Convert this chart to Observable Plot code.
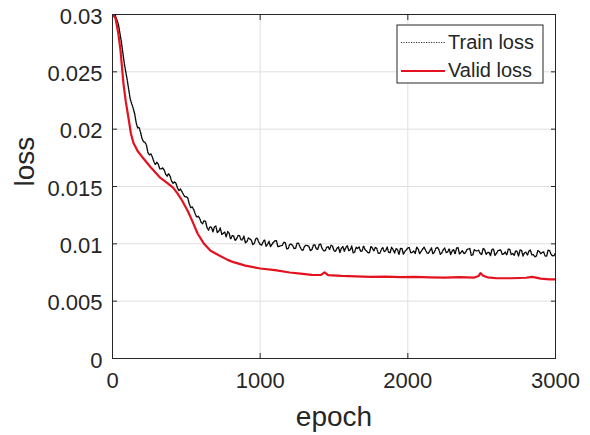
<!DOCTYPE html>
<html>
<head>
<meta charset="utf-8">
<script src="https://cdn.jsdelivr.net/npm/d3@7"></script>
<script src="https://cdn.jsdelivr.net/npm/@observablehq/plot@0.6"></script>
<style>
  html, body { margin: 0; padding: 0; background: #fff; }
  #chart { width: 590px; height: 435px; }
</style>
</head>
<body>
<div id="chart"></div>
<script>
const xTicks = [0, 1000, 2000, 3000];
const xTickLabels = ["0", "1000", "2000", "3000"];
const yTicks = [0, 0.005, 0.01, 0.015, 0.02, 0.025, 0.03];
const yTickLabels = ["0", "0.005", "0.01", "0.015", "0.02", "0.025", "0.03"];
const xLabel = "epoch";
const yLabel = "loss";
const seriesNames = ["Train loss", "Valid loss"];

// Train loss, even samples
const trainEpoch = [0,20,40,60,80,100,120,140,160,180,200,220,240,260,280,300,320,340,360,380,400,420,440,460,480,500,520,540,560,580,600,
620,640,660,680,700,720,740,760,780,800,820,840,860,880,900,920,940,960,980,1000,
1020,1040,1060,1080,1100,1120,1140,1160,1180,1200,1220,1240,1260,1280,1300,1320,1340,1360,1380,1400,
1420,1440,1460,1480,1500,1520,1540,1560,1580,1600,1620,1640,1660,1680,1700,1720,1740,1760,1780,1800,
1820,1840,1860,1880,1900,1920,1940,1960,1980,2000,2020,2040,2060,2080,2100,2120,2140,2160,2180,2200,
2220,2240,2260,2280,2300,2320,2340,2360,2380,2400,2420,2440,2460,2480,2500,2520,2540,2560,2580,2600,
2620,2640,2660,2680,2700,2720,2740,2760,2780,2800,2820,2840,2860,2880,2900,2920,2940,2960,2980,3000];
const trainLoss = [0.03000,0.02990,0.02915,0.02762,0.02571,0.02428,0.02262,0.02183,0.02058,0.02017,0.01918,0.01886,0.01796,0.01784,0.01718,0.01712,0.01655,0.01662,0.01608,0.01612,0.01548,0.01541,0.01488,0.01478,0.01432,0.01411,0.01348,0.01322,0.01262,0.01241,0.01188,
0.01202,0.01142,0.01149,0.01105,0.01155,0.01110,0.01082,0.01105,0.01107,0.01041,
0.01069,0.01042,0.01073,0.01035,0.01009,0.01052,0.01033,0.01002,0.01050,0.00995,
0.01018,0.00979,0.01023,0.00996,0.01026,0.00976,0.00984,0.01014,0.00956,0.00996,
0.00986,0.00962,0.01005,0.00950,0.00978,0.00985,0.00940,0.00988,0.00955,0.00995,
0.00958,0.00938,0.00975,0.00987,0.00940,0.00961,0.00925,0.00976,0.00967,0.00941,
0.00981,0.00929,0.00959,0.00935,0.00982,0.00939,0.00921,0.00963,0.00970,0.00917,
0.00949,0.00931,0.00972,0.00922,0.00951,0.00958,0.00908,0.00960,0.00933,0.00965,
0.00922,0.00937,0.00970,0.00914,0.00954,0.00946,0.00918,0.00964,0.00928,0.00969,
0.00909,0.00949,0.00923,0.00958,0.00938,0.00911,0.00966,0.00926,0.00915,0.00949,
0.00959,0.00904,0.00939,0.00944,0.00907,0.00951,0.00924,0.00897,0.00954,0.00916,
0.00944,0.00905,0.00928,0.00953,0.00907,0.00899,0.00934,0.00946,0.00894,0.00927,
0.00938,0.00905,0.00888,0.00940,0.00914,0.00930,0.00893,0.00941,0.00895,0.00920];

// Train loss, odd samples
const trainEpochB = [150,170,190,210,230,250,270,290,310,330,350,370,390,410,430,450,470,490,510,530,550,570,590,
610,630,650,670,690,710,730,750,770,790,810,830,850,870,890,910,930,950,970,990,
1010,1030,1050,1070,1090,1110,1130,1150,1170,1190,1210,1230,1250,1270,1290,1310,1330,1350,1370,1390,
1410,1430,1450,1470,1490,1510,1530,1550,1570,1590,1610,1630,1650,1670,1690,1710,1730,1750,1770,1790,
1810,1830,1850,1870,1890,1910,1930,1950,1970,1990,2010,2030,2050,2070,2090,2110,2130,2150,2170,2190,
2210,2230,2250,2270,2290,2310,2330,2350,2370,2390,2410,2430,2450,2470,2490,2510,2530,2550,2570,2590,
2610,2630,2650,2670,2690,2710,2730,2750,2770,2790,2810,2830,2850,2870,2890,2910,2930,2950,2970,2990];
const trainLossB = [0.02135,0.02012,0.01972,0.01891,0.01860,0.01776,0.01758,0.01691,0.01696,0.01653,0.01643,0.01590,0.01590,0.01528,0.01528,0.01464,0.01456,0.01409,0.01399,0.01315,0.01299,0.01233,0.01224,
0.01176,0.01196,0.01119,0.01144,0.01147,0.01098,0.01139,0.01090,0.01061,0.01092,
0.01071,0.01030,0.01072,0.01034,0.01068,0.01018,0.01043,0.00994,0.01045,0.01016,
0.00989,0.01036,0.00995,0.00976,0.01014,0.01028,0.00978,0.00987,0.01011,0.00958,
0.00996,0.00957,0.01006,0.00973,0.00942,0.00987,0.00978,0.00949,0.00992,0.00953,
0.00997,0.00940,0.00969,0.00951,0.00981,0.00933,0.00973,0.00961,0.00936,0.00985,
0.00947,0.00922,0.00971,0.00975,0.00936,0.00951,0.00923,0.00978,0.00938,0.00959,
0.00917,0.00969,0.00940,0.00927,0.00970,0.00920,0.00951,0.00959,0.00909,0.00947,
0.00966,0.00926,0.00916,0.00956,0.00934,0.00971,0.00920,0.00943,0.00912,0.00961,
0.00951,0.00921,0.00964,0.00929,0.00907,0.00951,0.00964,0.00910,0.00940,0.00922,
0.00955,0.00900,0.00949,0.00939,0.00915,0.00959,0.00908,0.00926,0.00954,0.00900,
0.00940,0.00946,0.00914,0.00902,0.00954,0.00916,0.00938,0.00893,0.00945,0.00923,
0.00901,0.00946,0.00905,0.00891,0.00935,0.00925,0.00893,0.00945,0.00909,0.00897];

const validEpoch = [0,20,40,54,74,90,108,125,142,170,200,257,320,372,410,440,470,508,540,576,620,664,720,780,819,900,1002,1100,1200,1273,1350,1410,1436,1460,1550,1650,1750,1850,1950,2050,2150,2250,2350,2450,2480,2492,2510,2540,2600,2700,2800,2840,2860,2900,2960,3000];
const validLoss = [0.0300,0.0297,0.0283,0.0269,0.0240,0.0224,0.0210,0.0196,0.0188,0.0181,0.0176,0.0167,0.0158,0.0153,0.0149,0.0144,0.0138,0.0129,0.0120,0.0109,0.0100,0.0094,0.0090,0.0086,0.0084,0.0081,0.00785,0.0077,0.0075,0.0074,0.00730,0.00728,0.00752,0.00727,0.00720,0.00716,0.00712,0.00714,0.00710,0.00712,0.00708,0.00706,0.00709,0.00706,0.00720,0.00745,0.00722,0.00708,0.00700,0.00700,0.00704,0.00712,0.00708,0.00696,0.00690,0.00690];

const train = trainEpoch.map((e, i) => ({epoch: e, loss: trainLoss[i]}))
  .concat(trainEpochB.map((e, i) => ({epoch: e, loss: trainLossB[i]})))
  .sort((a, b) => a.epoch - b.epoch);
const valid = validEpoch.map((e, i) => ({epoch: e, loss: validLoss[i]}));

const FONT = "'Liberation Sans', Arial, Helvetica, sans-serif";
const INK = "#262626";
const GRID = "#dfdfdf";
const RED = "#e3121f";

const chart = Plot.plot({
  width: 590,
  height: 435,
  marginLeft: 112,
  marginRight: 35,
  marginTop: 14,
  marginBottom: 77,
  style: {fontFamily: FONT, color: INK, background: "#fff", overflow: "visible"},
  x: {domain: [0, 3000]},
  y: {domain: [0, 0.03]},
  marks: [
    Plot.gridX(xTicks, {stroke: GRID, strokeOpacity: 1}),
    Plot.gridY(yTicks, {stroke: GRID, strokeOpacity: 1}),
    Plot.line(train, {x: "epoch", y: "loss", stroke: "#0a0a0a", strokeWidth: 1.4, strokeDasharray: "1.3,1.1", clip: true}),
    Plot.line(valid, {x: "epoch", y: "loss", stroke: RED, strokeWidth: 2.2, clip: true}),
    Plot.frame({stroke: INK, strokeWidth: 1}),
    Plot.axisX(xTicks, {anchor: "bottom", tickSize: 0, tickPadding: 14, fontSize: 22, label: null,
      tickFormat: d => xTickLabels[xTicks.indexOf(d)]}),
    Plot.axisY(yTicks, {anchor: "left", tickSize: 0, tickPadding: 10, fontSize: 22, label: null, dy: 2,
      tickFormat: d => yTickLabels[yTicks.indexOf(d)]}),
    Plot.axisX(xTicks, {anchor: "top", tickSize: -5, tickFormat: () => "", label: null, stroke: INK}),
    Plot.axisX(xTicks, {anchor: "bottom", tickSize: -5, tickFormat: () => "", label: null, stroke: INK}),
    Plot.axisY(yTicks, {anchor: "right", tickSize: -5, tickFormat: () => "", label: null, stroke: INK}),
    Plot.axisY(yTicks, {anchor: "left", tickSize: -5, tickFormat: () => "", label: null, stroke: INK}),
    Plot.text([xLabel], {frameAnchor: "bottom", dy: 59, fontSize: 28, fill: INK, lineAnchor: "middle"}),
    Plot.text([yLabel], {frameAnchor: "left", dx: -87, rotate: -90, fontSize: 28, fill: INK, lineAnchor: "middle"})
  ]
});

document.getElementById("chart").appendChild(chart);

// Legend box (inside the plot, top right)
const svg = d3.select(chart);
const lg = svg.append("g").attr("font-family", FONT).attr("font-size", 20)
  .attr("fill", INK).attr("text-anchor", "start");
lg.append("rect").attr("x", 397).attr("y", 25).attr("width", 146).attr("height", 58)
  .attr("fill", "#fff").attr("stroke", INK).attr("stroke-width", 1);
lg.append("line").attr("x1", 401).attr("x2", 445).attr("y1", 42.5).attr("y2", 42.5)
  .attr("stroke", "#333").attr("stroke-width", 1).attr("stroke-dasharray", "1.2,1.3");
lg.append("text").attr("x", 448).attr("y", 49).text(seriesNames[0]);
lg.append("line").attr("x1", 401).attr("x2", 445).attr("y1", 71).attr("y2", 71)
  .attr("stroke", RED).attr("stroke-width", 2.2);
lg.append("text").attr("x", 448).attr("y", 77).text(seriesNames[1]);
</script>
</body>
</html>
